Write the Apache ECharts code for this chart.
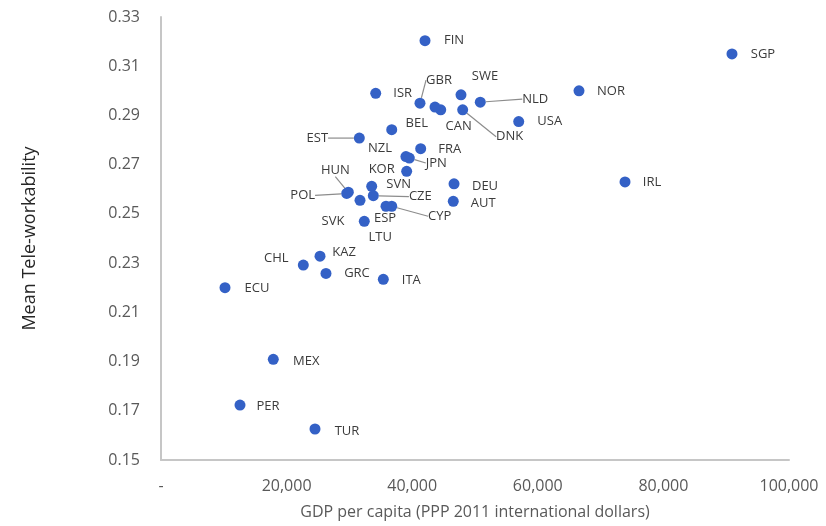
<!DOCTYPE html>
<html>
<head>
<meta charset="utf-8">
<script src="https://cdn.jsdelivr.net/npm/echarts@6/dist/echarts.min.js"></script>
<style>
html,body{margin:0;padding:0;background:#fff;}
#chart{width:826px;height:526px;}
</style>
</head>
<body>
<div id="chart"></div>
<script>
// ---- data ----
var countries = ['FIN','SGP','NOR','IRL','ISR','GBR','SWE','NLD','USA','CAN','DNK','','BEL','EST','FRA','NZL','JPN','KOR','HUN','POL','SVN','CZE','DEU','AUT','CYP','ESP','SVK','LTU','KAZ','CHL','GRC','ITA','ECU','MEX','PER','TUR'];
var gdpPerCapita = [42040,90920,66560,73890,34190,41240,47770,50840,56960,44540,48040,43630,36740,31580,41350,39000,39540,39120,29830,29570,33550,33810,46660,46540,36740,35830,31690,32370,25320,22660,26270,35400,10190,17880,12580,24520];
var teleWorkability = [0.3204,0.3150,0.3000,0.2630,0.2990,0.2950,0.2984,0.2954,0.2875,0.2923,0.2923,0.2934,0.2842,0.2808,0.2765,0.2733,0.2727,0.2673,0.2588,0.2583,0.2612,0.2574,0.2622,0.2551,0.2531,0.2531,0.2555,0.2470,0.2328,0.2292,0.2258,0.2234,0.2200,0.1909,0.1723,0.1626];
var xTicks = {min:0, max:100000, step:20000};
var yTicks = {min:0.15, max:0.33, step:0.02};

// ---- label placement (pixel offset of label centre from its point; leader line flag) ----
var labelPlacement = {
  FIN:[29,0], SGP:[31,0], NOR:[32,0], IRL:[27,0], ISR:[27,0],
  GBR:[19,-23,1], SWE:[24,-18], NLD:[55,-3,1], USA:[31,0], CAN:[18,17],
  DNK:[47,27,1], BEL:[25,-6], EST:[-42,0,1], FRA:[29,1], NZL:[-26,-8],
  JPN:[27,5,1], KOR:[-25,-2], HUN:[-13,-22,1], POL:[-44,2,1], SVN:[27,-2],
  CZE:[47,1,1], DEU:[31,2], AUT:[30,2], CYP:[48,10,1], ESP:[-1,12],
  SVK:[-27,21], LTU:[16,16], KAZ:[24,-4], CHL:[-27,-7], GRC:[31,0],
  ITA:[28,1], ECU:[32,1], MEX:[33,2], PER:[28,1], TUR:[32,2]
};

var points = countries.map(function(c, i){
  var p = labelPlacement[c];
  return {
    name: c,
    value: [gdpPerCapita[i], teleWorkability[i]],
    label: {show: c !== ''},
    labelLine: {show: !!(p && p[2])}
  };
});

var chart = echarts.init(document.getElementById('chart'), null, {renderer:'canvas'});
var labelFont = 'Open Sans, sans-serif';
chart.setOption({
  animation: false,
  backgroundColor: '#ffffff',
  grid: {left:161, right:37, top:17, bottom:66, containLabel:false},
  xAxis: {
    type:'value', min:xTicks.min, max:xTicks.max, interval:xTicks.step,
    name:'GDP per capita (PPP 2011 international dollars)',
    nameLocation:'middle', nameGap:44,
    nameTextStyle:{color:'#595959', fontSize:16, fontFamily:labelFont},
    axisLine:{show:true, lineStyle:{color:'#c6c6c6', width:2}},
    axisTick:{show:false},
    splitLine:{show:false},
    axisLabel:{
      color:'#595959', fontSize:16, fontFamily:labelFont, margin:18,
      formatter:function(v){ return v === 0 ? '-' : v.toLocaleString('en-US'); }
    }
  },
  yAxis: {
    type:'value', min:yTicks.min, max:yTicks.max, interval:yTicks.step,
    name:'Mean Tele-workability',
    nameLocation:'middle', nameGap:122, nameRotate:90,
    nameTextStyle:{color:'#262626', fontSize:18, fontFamily:labelFont},
    axisLine:{show:true, lineStyle:{color:'#c6c6c6', width:2}},
    axisTick:{show:false},
    splitLine:{show:false},
    axisLabel:{
      color:'#595959', fontSize:16, fontFamily:labelFont, margin:21,
      formatter:function(v){ return v.toFixed(2); }
    }
  },
  series: [{
    type:'scatter',
    symbolSize:11,
    itemStyle:{color:'#3461c6', opacity:1},
    data: points,
    label:{
      show:true, position:'inside', formatter:'{b}',
      color:'#3b3b3b', fontSize:13, fontFamily:labelFont, fontWeight:500
    },
    labelLine:{show:false, lineStyle:{color:'#8c8c8c', width:1.2}},
    labelLayout:function(params){
      var p = labelPlacement[countries[params.dataIndex]];
      if (!p) return {};
      return {dx:p[0], dy:p[1]};
    }
  }]
});
</script>
</body>
</html>
